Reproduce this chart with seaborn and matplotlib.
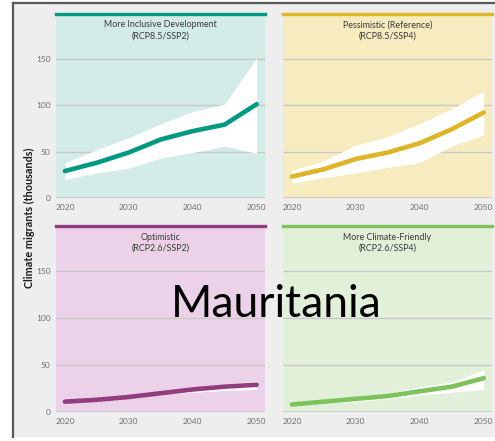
import matplotlib
matplotlib.use("Agg")
import matplotlib.pyplot as plt
import seaborn as sns
import pandas as pd

# ------------------------------------------------------------
# DATA (thousands of climate migrants)
# ------------------------------------------------------------
YEARS = [2020, 2025, 2030, 2035, 2040, 2045, 2050]

TITLES = [
    "More Inclusive Development\n(RCP8.5/SSP2)",
    "Pessimistic (Reference)\n(RCP8.5/SSP4)",
    "Optimistic\n(RCP2.6/SSP2)",
    "More Climate-Friendly\n(RCP2.6/SSP4)",
]

inclusive_mid = [29, 38, 49, 63, 72, 79, 101]
inclusive_hi = [38, 52, 65, 80, 93, 101, 151]
inclusive_lo = [20, 27, 32, 43, 49, 56, 48]

pessimistic_mid = [23, 31, 42, 49, 59, 74, 92]
pessimistic_hi = [30, 40, 57, 66, 80, 96, 115]
pessimistic_lo = [16, 22, 27, 33, 38, 56, 68]

optimistic_mid = [11, 13, 16, 20, 24, 27, 29]
optimistic_hi = [12, 14, 17, 21, 26, 30, 33]
optimistic_lo = [10, 12, 15, 19, 21, 23, 24]

friendly_mid = [8, 11, 14, 17, 22, 27, 36]
friendly_hi = [9, 12, 15, 20, 27, 32, 45]
friendly_lo = [7, 9, 11, 14, 18, 21, 24]

MIDS = [inclusive_mid, pessimistic_mid, optimistic_mid, friendly_mid]
HIS = [inclusive_hi, pessimistic_hi, optimistic_hi, friendly_hi]
LOS = [inclusive_lo, pessimistic_lo, optimistic_lo, friendly_lo]

LINE_COLORS = ["#009a82", "#dfb526", "#913d7f", "#7dc35b"]
BG_COLORS = ["#d3ece8", "#f7ebc0", "#ecd2e8", "#e2f0d9"]

# ------------------------------------------------------------
# PLOT
# ------------------------------------------------------------
sns.set_style("white")
plt.rcParams["font.family"] = ["Lato", "DejaVu Sans"]

W, H = 495, 441
fig = plt.figure(figsize=(W / 100, H / 100), dpi=100)
fig.patch.set_facecolor("white")

# grey panel background with the dark frame on the left and top
frame = fig.add_axes([13 / W, 4 / H, 1 - 13 / W, 1 - 7 / H])
frame.set_facecolor("#eeeeee")
frame.set_xticks([])
frame.set_yticks([])
for side in ["right", "bottom"]:
    frame.spines[side].set_visible(False)
for side in ["left", "top"]:
    frame.spines[side].set_color("#595959")
    frame.spines[side].set_linewidth(1.6)
frame.set_zorder(0)

# panel boxes in pixels: left, top, width, height
boxes = [
    (56, 14, 209, 184),
    (283, 14, 209, 184),
    (56, 226, 209, 186),
    (283, 226, 209, 186),
]

for i, (lx, ty, bw, bh) in enumerate(boxes):
    ax = fig.add_axes([lx / W, 1 - (ty + bh) / H, bw / W, bh / H])
    ax.set_zorder(1)
    ax.set_facecolor(BG_COLORS[i])

    df = pd.DataFrame({"year": YEARS, "mid": MIDS[i]})
    ax.fill_between(YEARS, LOS[i], HIS[i], color="white", lw=0, zorder=2)
    sns.lineplot(data=df, x="year", y="mid", color=LINE_COLORS[i],
                 lw=3.3, ax=ax, zorder=3)

    ax.set_xlim(2018.6, 2051.3)
    ax.set_ylim(0, 198)
    ax.set_yticks([0, 50, 100, 150])
    ax.set_xticks([2020, 2030, 2040, 2050])
    for y in [50, 100, 150]:
        ax.axhline(y, color="#c8c8c8", lw=1.0, zorder=1)
    ax.axhline(0, color="#c8c8c8", lw=1.2, zorder=1)

    for side in ["left", "right", "bottom"]:
        ax.spines[side].set_visible(False)
    ax.spines["top"].set_color(LINE_COLORS[i])
    ax.spines["top"].set_linewidth(2.4)

    ax.tick_params(length=0, labelsize=6, labelcolor="#707070", pad=4)
    ax.set_xlabel("")
    ax.set_ylabel("")
    if i % 2 == 1:
        ax.set_yticklabels([])

    ax.text(0.5, 0.965, TITLES[i], transform=ax.transAxes, ha="center",
            va="top", fontsize=6.4, color="#3a3a3a", linespacing=1.25)

fig.text(29 / W, 1 - 218 / H, "Climate migrants (thousands)", rotation=90,
         ha="center", va="center", fontsize=7.8, fontweight="bold",
         color="#1a1a1a")

fig.text(276 / W, 1 - 317 / H, "Mauritania", ha="center", va="baseline",
         fontsize=32, color="black", zorder=10)

fig.savefig("out.png", dpi=100)
